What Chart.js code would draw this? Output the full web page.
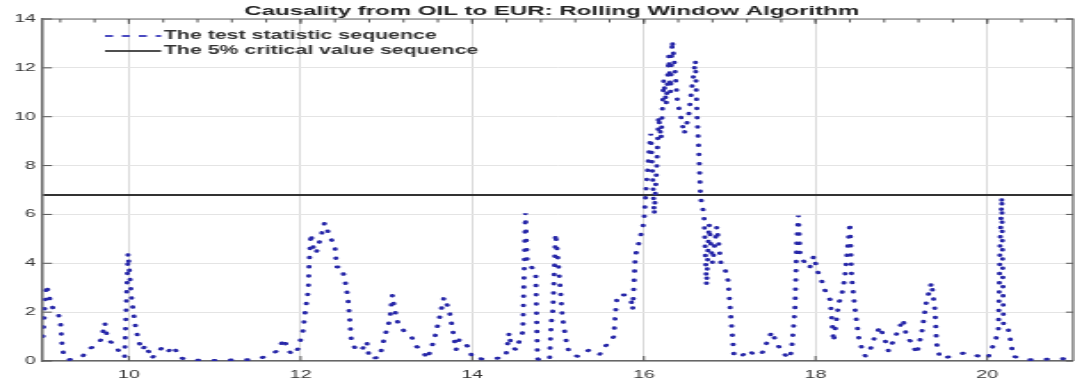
<!DOCTYPE html>
<html><head><meta charset="utf-8">
<script src="https://cdn.jsdelivr.net/npm/chart.js@4.4.1/dist/chart.umd.min.js"></script>
<style>
html,body{margin:0;padding:0;background:#fff;overflow:hidden;width:1075px;height:383px;}
#wrap{position:absolute;left:0;top:0;width:604px;height:383px;transform:scaleX(1.7798);transform-origin:0 0;}
canvas{display:block;}
</style></head><body>
<div id="wrap"><canvas id="c" width="604" height="383"></canvas></div>
<script>
const titleText = 'Causality from OIL to EUR: Rolling Window Algorithm';
const legendLabels = ['The test statistic sequence', 'The 5% critical value sequence'];
const xTicks = [10, 12, 14, 16, 18, 20];
const yTicks = [0, 2, 4, 6, 8, 10, 12, 14];
const xRange = [9, 21];
const criticalValue = 6.8;

const timeAxis = [
9.00,9.02,9.04,9.08,9.12,9.17,9.20,9.22,9.24,9.29,
9.37,9.45,9.53,9.60,9.64,9.68,9.72,9.74,9.78,9.84,
9.90,9.95,9.99,10.03,10.07,10.11,10.15,10.20,10.26,10.32,
10.40,10.46,10.52,10.59,10.67,10.80,11.00,11.20,11.40,11.52,
11.64,11.72,11.81,11.85,11.91,11.97,12.03,12.05,12.09,12.10,
12.12,12.15,12.18,12.23,12.28,12.34,12.40,12.42,12.47,12.51,
12.55,12.57,12.59,12.65,12.72,12.77,12.80,12.92,12.98,13.04,
13.07,13.09,13.13,13.21,13.29,13.35,13.42,13.48,13.56,13.62,
13.67,13.73,13.77,13.81,13.85,13.92,13.97,14.00,14.20,14.39,
14.43,14.45,14.51,14.59,14.62,14.64,14.70,14.74,14.76,14.78,
14.90,14.92,14.94,14.97,14.99,15.02,15.05,15.09,15.13,15.24,
15.36,15.48,15.55,15.65,15.67,15.69,15.79,15.85,15.87,15.90,
15.96,16.00,16.02,16.04,16.06,16.08,16.12,16.15,16.17,16.20,
16.23,16.26,16.29,16.31,16.33,16.36,16.39,16.43,16.47,16.52,
16.56,16.60,16.62,16.64,16.66,16.70,16.73,16.76,16.80,16.85,
16.90,16.95,16.98,17.02,17.05,17.12,17.22,17.30,17.38,17.49,
17.55,17.63,17.69,17.72,17.76,17.78,17.80,17.82,17.88,17.93,
17.98,18.02,18.07,18.11,18.17,18.21,18.24,18.27,18.30,18.34,
18.40,18.42,18.46,18.50,18.54,18.58,18.64,18.69,18.75,18.81,
18.85,18.93,19.02,19.06,19.12,19.18,19.24,19.29,19.35,19.39,
19.41,19.45,19.60,19.75,19.90,19.93,20.01,20.09,20.13,20.15,
20.17,20.19,20.24,20.28,20.30,20.44,20.60,20.80,21.00
];

const testStatistic = [
1.0,2.2,3.1,2.5,2.1,2.0,1.65,0.7,0.2,0.05,
0.1,0.15,0.5,0.6,0.7,0.9,1.55,1.1,0.8,0.66,
0.3,0.15,4.4,2.6,1.55,0.86,0.45,0.65,0.1,0.3,
0.6,0.4,0.6,0.15,0.05,0.03,0.02,0.04,0.05,0.1,
0.25,0.4,0.9,0.45,0.25,0.5,1.25,1.9,2.9,4.0,
5.2,4.6,4.4,5.0,5.65,5.1,4.7,3.85,3.85,3.45,
2.6,1.8,0.85,0.4,0.5,0.8,0.1,0.15,1.0,1.7,
2.7,2.2,1.6,1.2,1.0,0.6,0.4,0.1,0.9,1.8,
2.6,2.1,1.3,0.45,0.9,0.7,0.5,0.1,0.08,0.15,
1.15,0.65,0.45,1.2,6.05,4.1,3.8,3.6,0.1,0.05,
0.05,1.55,2.1,5.2,4.5,3.2,1.8,0.9,0.3,0.18,
0.45,0.25,0.6,1.0,2.0,2.7,2.7,2.5,2.1,4.3,
5.1,5.7,6.8,7.7,8.6,9.3,6.0,8.0,10.0,9.1,
11.5,10.5,12.5,11.0,13.1,12.0,10.6,10.0,9.3,10.0,
11.2,12.3,10.0,8.6,6.7,6.0,3.1,5.6,4.0,5.5,
3.9,3.7,3.3,1.5,0.2,0.15,0.45,0.2,0.35,1.2,
0.7,0.3,0.1,0.4,2.1,4.8,5.95,4.3,4.0,3.8,
4.3,3.7,3.3,2.9,2.5,0.8,1.6,2.4,2.6,3.4,
5.65,3.4,2.1,1.0,0.5,0.2,0.5,1.0,1.4,0.85,
0.4,1.0,1.7,1.0,0.75,0.3,1.2,2.4,3.2,2.1,
0.7,0.1,0.2,0.35,0.2,0.1,0.15,0.8,1.2,4.8,
6.7,1.4,1.4,0.7,0.2,0.05,0.05,0.1,0.08
];

const FONT = '"Liberation Sans", Arial, sans-serif';
const minorStep = 0.4;

const decor = {
  id: 'decor',
  afterDraw(chart) {
    const {ctx, chartArea: a, scales: {x, y}} = chart;
    ctx.save();
    ctx.strokeStyle = '#666';
    ctx.lineWidth = 1.2;
    ctx.beginPath();
    ctx.moveTo(a.left, a.top); ctx.lineTo(a.right, a.top); ctx.lineTo(a.right, a.bottom);
    ctx.stroke();
    ctx.strokeStyle = '#555';
    ctx.lineWidth = 1;
    ctx.beginPath();
    yTicks.forEach(v => {
      const py = y.getPixelForValue(v);
      ctx.moveTo(a.left, py); ctx.lineTo(a.left + 5, py);
      ctx.moveTo(a.right, py); ctx.lineTo(a.right - 4, py);
    });
    xTicks.forEach(v => {
      const px = x.getPixelForValue(v);
      ctx.moveTo(px, a.top); ctx.lineTo(px, a.top + 5);
      ctx.moveTo(px, a.bottom); ctx.lineTo(px, a.bottom - 5);
    });
    for (let v = xRange[0] + minorStep / 2; v < xRange[1]; v += minorStep) {
      const px = x.getPixelForValue(v);
      ctx.moveTo(px, a.top); ctx.lineTo(px, a.top + 3.5);
    }
    ctx.stroke();
    ctx.fillStyle = '#222';
    ctx.font = 'bold 13.5px ' + FONT;
    ctx.textAlign = 'center';
    ctx.textBaseline = 'alphabetic';
    ctx.fillText(titleText, 310, 14.5);
    const lx0 = 59, lx1 = 90.5, tx = 92, r1 = 36, r2 = 51;
    ctx.strokeStyle = '#4a4ac0';
    ctx.lineWidth = 1.8;
    ctx.setLineDash([4.5, 5]);
    ctx.beginPath(); ctx.moveTo(lx0, r1); ctx.lineTo(lx1, r1); ctx.stroke();
    ctx.setLineDash([]);
    ctx.strokeStyle = '#222';
    ctx.lineWidth = 1.6;
    ctx.beginPath(); ctx.moveTo(lx0, r2); ctx.lineTo(lx1, r2); ctx.stroke();
    ctx.fillStyle = '#333';
    ctx.font = 'bold 12px ' + FONT;
    ctx.textAlign = 'left';
    ctx.textBaseline = 'middle';
    ctx.fillText(legendLabels[0], tx, r1);
    ctx.fillText(legendLabels[1], tx, r2);
    ctx.restore();
  }
};

new Chart(document.getElementById('c'), {
  type: 'line',
  data: {
    datasets: [
      {
        label: legendLabels[0],
        data: timeAxis.map((t, i) => ({x: t, y: testStatistic[i]})),
        borderColor: '#2626a8',
        borderWidth: 2.9,
        borderDash: [0.6, 8.6],
        borderCapStyle: 'round',
        pointRadius: 0,
        tension: 0,
        fill: false
      },
      {
        label: legendLabels[1],
        data: [{x: xRange[0], y: criticalValue}, {x: xRange[1], y: criticalValue}],
        borderColor: '#333',
        borderWidth: 2,
        pointRadius: 0,
        fill: false
      }
    ]
  },
  options: {
    responsive: false,
    animation: false,
    devicePixelRatio: 1,
    layout: {padding: {top: 19, right: 1.1, left: 0, bottom: 0}},
    plugins: {legend: {display: false}, title: {display: false}, tooltip: {enabled: false}},
    scales: {
      x: {
        type: 'linear', min: xRange[0], max: xRange[1],
        afterBuildTicks: s => { s.ticks = xTicks.map(v => ({value: v})); },
        afterFit: s => { s.height = 22; },
        ticks: {padding: 7, color: '#333', font: {family: FONT, size: 11}, maxRotation: 0, autoSkip: false, callback: v => String(v)},
        grid: {color: '#dadada', lineWidth: 1, drawTicks: false},
        border: {display: true, color: '#666', width: 1.4}
      },
      y: {
        type: 'linear', min: 0, max: 14,
        afterBuildTicks: s => { s.ticks = yTicks.map(v => ({value: v})); },
        afterFit: s => { s.width = 24.2; },
        ticks: {padding: 4, color: '#333', font: {family: FONT, size: 11}, callback: v => String(v)},
        grid: {color: '#e4e4e4', lineWidth: 1, drawTicks: false},
        border: {display: true, color: '#666', width: 1.5}
      }
    }
  },
  plugins: [decor]
});
</script>
</body></html>
